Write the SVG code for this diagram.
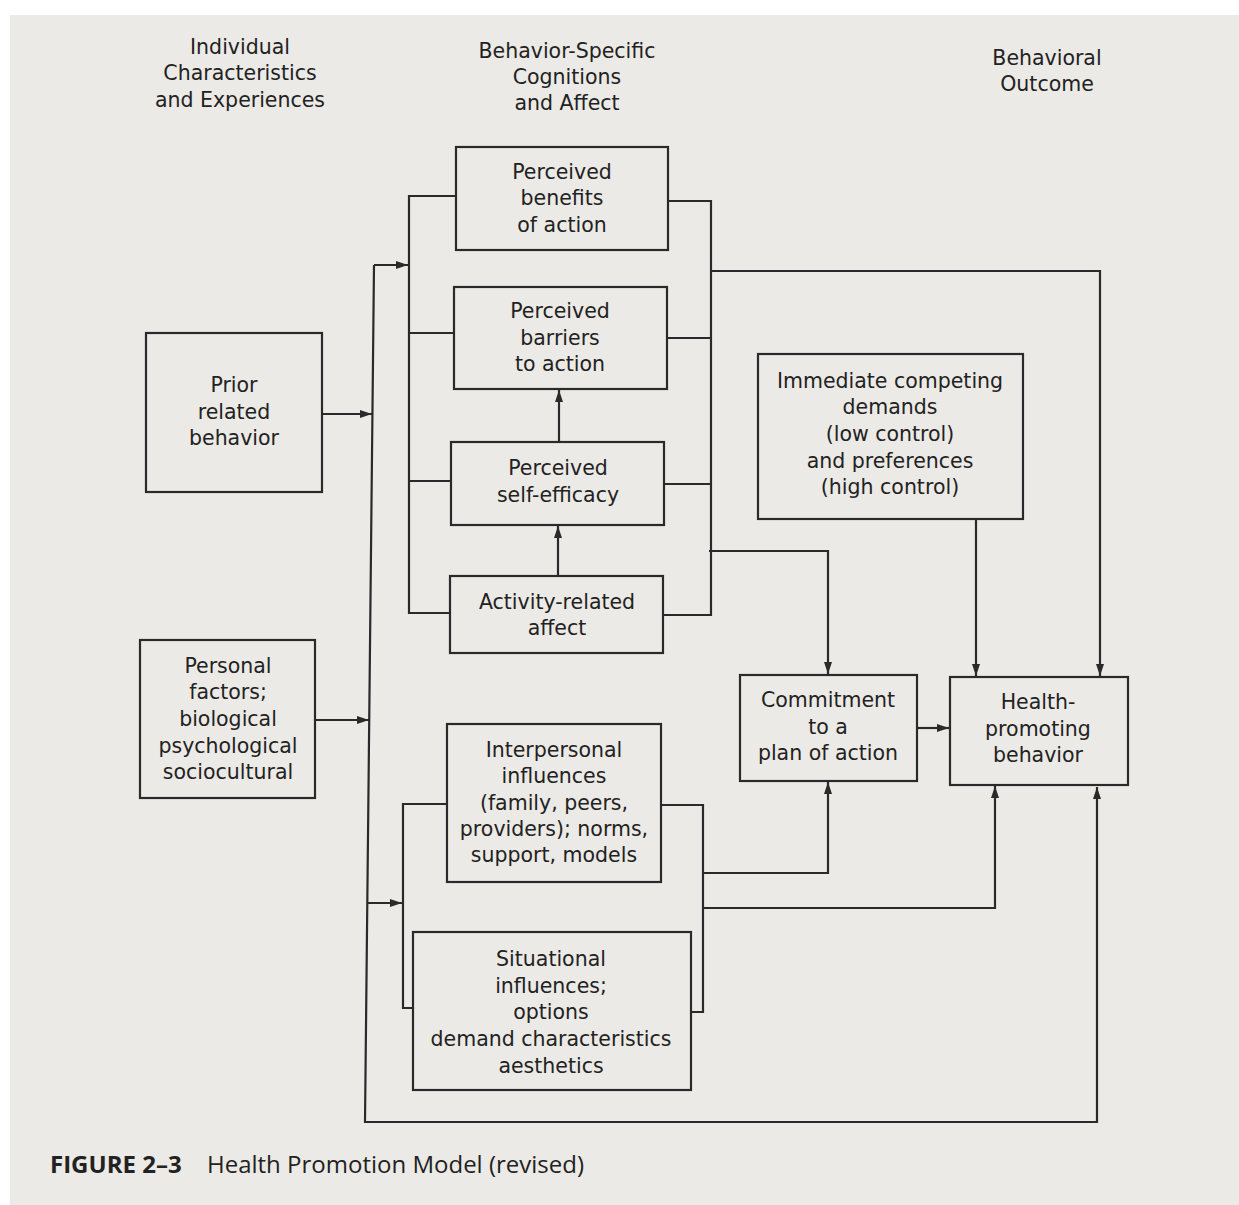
<svg xmlns="http://www.w3.org/2000/svg" width="1239" height="1205" viewBox="0 0 1239 1205">
<defs>
<style>
.bg{fill:#eceae6}
.box{fill:none;stroke:#2a2a2a;stroke-width:2.2}
.ln{fill:none;stroke:#2a2a2a;stroke-width:2.2}
.ar{fill:none;stroke:#2a2a2a;stroke-width:2.2;marker-end:url(#ah)}
text{font-family:"DejaVu Sans","Liberation Sans",sans-serif;font-size:20.5px;fill:#222;text-anchor:middle}
.cap{font-family:"Open Sans","Liberation Sans",sans-serif;font-size:24px;text-anchor:start}
</style>
<marker id="ah" markerUnits="userSpaceOnUse" markerWidth="12" markerHeight="8" refX="12" refY="4" orient="auto">
<path d="M0,0 L12,4 L0,8 z" fill="#2a2a2a"/>
</marker>
</defs>
<rect width="1239" height="1205" fill="#ffffff"/>
<rect class="bg" x="10" y="15" width="1229" height="1190"/>

<g id="headers">
<text x="240" y="54">Individual</text>
<text x="240" y="80">Characteristics</text>
<text x="240" y="107">and Experiences</text>
<text x="567" y="58">Behavior-Specific</text>
<text x="567" y="84">Cognitions</text>
<text x="567" y="110">and Affect</text>
<text x="1047" y="65">Behavioral</text>
<text x="1047" y="91">Outcome</text>
</g>

<g id="connectors">
<path class="ln" d="M456,196 H409 V613 H450 M409,333 H454 M409,481 H451"/>
<path class="ln" d="M668,201 H711 V615 H663 M711,338 H667 M710,484 H664"/>
<path class="ar" d="M559,442 V390"/>
<path class="ar" d="M558,576 V526"/>
<path class="ar" d="M374,265 L365,1122 H1097 V787"/>
<path class="ar" d="M374,265 H408"/>
<path class="ar" d="M322,414 H372"/>
<path class="ar" d="M315,720 H369"/>
<path class="ar" d="M367,903 H402"/>
<path class="ln" d="M447,804 H403 V1008 H413"/>
<path class="ln" d="M661,805 H703 V1012 H691"/>
<path class="ar" d="M703,873 H828 V782"/>
<path class="ar" d="M703,908 H995 V786"/>
<path class="ar" d="M711,271 H1100 V676"/>
<path class="ar" d="M709,551 H828 V674"/>
<path class="ar" d="M976,519 V676"/>
<path class="ar" d="M917,728 H949"/>
</g>

<g id="prior">
<rect class="box" x="146" y="333" width="176" height="159"/>
<text x="234" y="392">Prior</text>
<text x="234" y="419">related</text>
<text x="234" y="445">behavior</text>
</g>

<g id="personal">
<rect class="box" x="140" y="640" width="175" height="158"/>
<text x="228" y="673">Personal</text>
<text x="228" y="699">factors;</text>
<text x="228" y="726">biological</text>
<text x="228" y="753">psychological</text>
<text x="228" y="779">sociocultural</text>
</g>

<g id="benefits">
<rect class="box" x="456" y="147" width="212" height="103"/>
<text x="562" y="179">Perceived</text>
<text x="562" y="205">benefits</text>
<text x="562" y="232">of action</text>
</g>

<g id="barriers">
<rect class="box" x="454" y="287" width="213" height="102"/>
<text x="560" y="318">Perceived</text>
<text x="560" y="345">barriers</text>
<text x="560" y="371">to action</text>
</g>

<g id="selfefficacy">
<rect class="box" x="451" y="442" width="213" height="83"/>
<text x="558" y="475">Perceived</text>
<text x="558" y="502">self-efficacy</text>
</g>

<g id="affect">
<rect class="box" x="450" y="576" width="213" height="77"/>
<text x="557" y="609">Activity-related</text>
<text x="557" y="635">affect</text>
</g>

<g id="interpersonal">
<rect class="box" x="447" y="724" width="214" height="158"/>
<text x="554" y="757">Interpersonal</text>
<text x="554" y="783">influences</text>
<text x="554" y="810">(family, peers,</text>
<text x="554" y="836">providers); norms,</text>
<text x="554" y="862">support, models</text>
</g>

<g id="situational">
<rect class="box" x="413" y="932" width="278" height="158"/>
<text x="551" y="966">Situational</text>
<text x="551" y="993">influences;</text>
<text x="551" y="1019">options</text>
<text x="551" y="1046">demand characteristics</text>
<text x="551" y="1073">aesthetics</text>
</g>

<g id="competing">
<rect class="box" x="758" y="354" width="265" height="165"/>
<text x="890" y="388">Immediate competing</text>
<text x="890" y="414">demands</text>
<text x="890" y="441">(low control)</text>
<text x="890" y="468">and preferences</text>
<text x="890" y="494">(high control)</text>
</g>

<g id="commitment">
<rect class="box" x="740" y="675" width="177" height="106"/>
<text x="828" y="707">Commitment</text>
<text x="828" y="734">to a</text>
<text x="828" y="760">plan of action</text>
</g>

<g id="health">
<rect class="box" x="950" y="677" width="178" height="108"/>
<text x="1038" y="709">Health-</text>
<text x="1038" y="736">promoting</text>
<text x="1038" y="762">behavior</text>
</g>

<g id="caption">
<text class="cap" x="50" y="1173" font-weight="bold" font-size="24.5">FIGURE 2–3</text>
<text class="cap" x="207" y="1173">Health Promotion Model (revised)</text>
</g>
</svg>
